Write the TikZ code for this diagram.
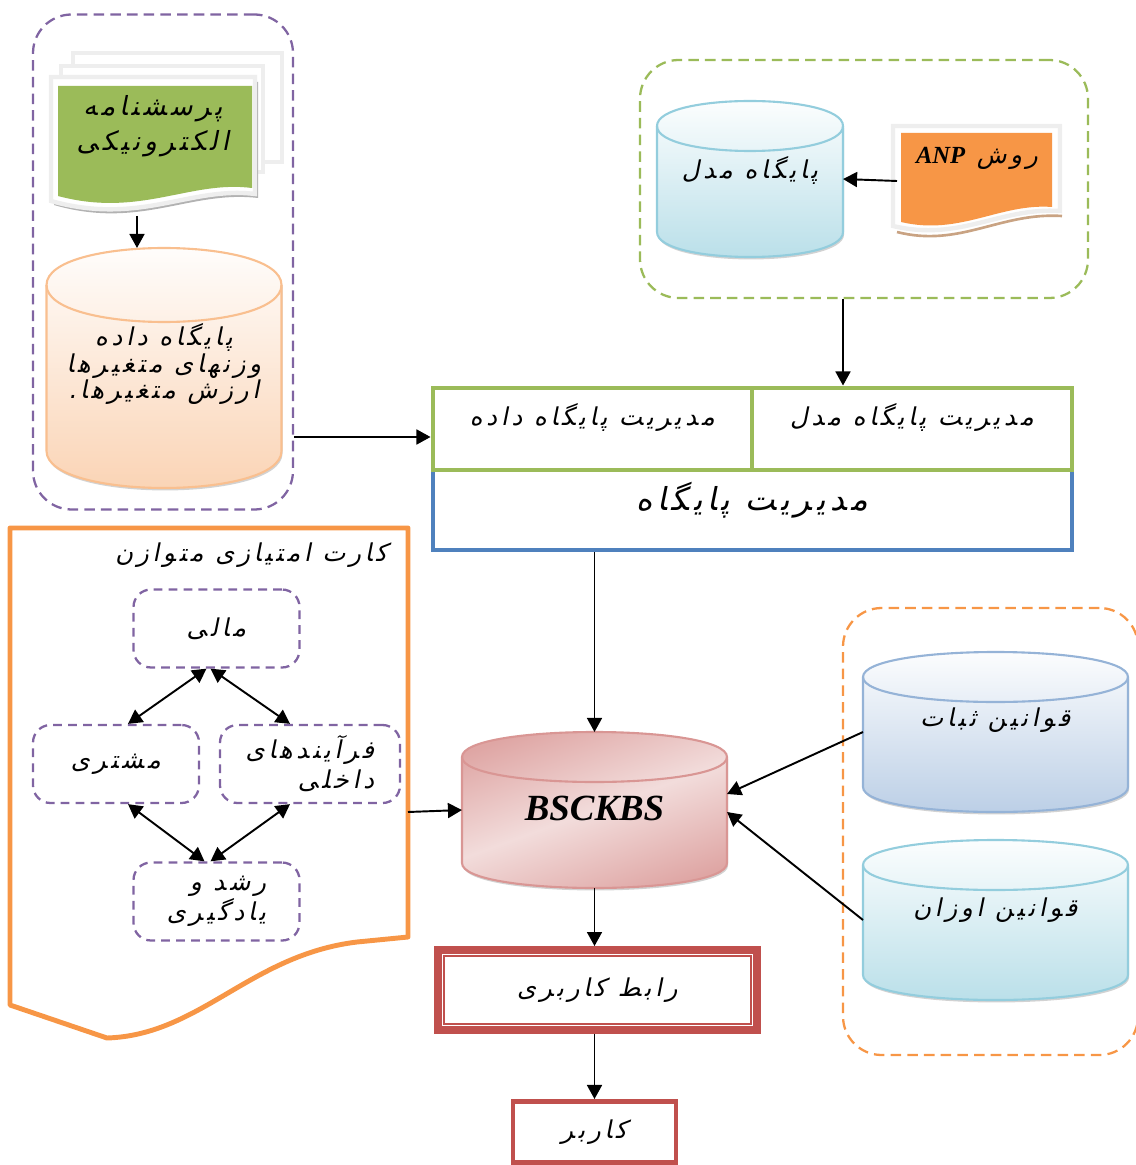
\documentclass[tikz,border=0pt]{standalone}
\usepackage{fontspec}
\usepackage{xcolor}
\usepackage{tikz}
\usetikzlibrary{shapes.geometric,arrows.meta,positioning,calc,shadows}
\TeXXeTstate=1
\newfontfamily\fafont[Script=Arabic,FakeSlant=0.2,LetterSpace=15]{DejaVu Sans}
\newfontfamily\enfont{Liberation Serif}
\newcommand{\fa}[1]{\beginR #1\endR}
% name, position, width, height, end radius, line colour, shading
\newcommand{\dbcylinder}[7]{%
  \node[dbspace, minimum width=#3*0.02cm, minimum height=#4*0.02cm] (#1) at #2 {};
  \path[draw=#6, line width=1.2pt, #7,
      drop shadow={shadow xshift=0.6pt, shadow yshift=-1.4pt, fill=black!35, opacity=0.5}]
    ($(#1.north west)+(0,#5)$) .. controls ($(#1.north west)+(0,-#5/3)$) and ($(#1.north east)+(0,-#5/3)$) .. ($(#1.north east)+(0,#5)$)
    -- ($(#1.south east)+(0,-#5)$) .. controls ($(#1.south east)+(0,#5/3)$) and ($(#1.south west)+(0,#5/3)$) .. ($(#1.south west)+(0,-#5)$)
    -- cycle;
  \draw[#6, line width=1.2pt] ($(#1.north west)+(0,#5)$) .. controls ($(#1.north west)+(0,#5*7/3)$) and ($(#1.north east)+(0,#5*7/3)$) .. ($(#1.north east)+(0,#5)$);
}
\definecolor{purpleline}{HTML}{8064A2}
\definecolor{greenline}{HTML}{9BBB59}
\definecolor{orangeline}{HTML}{F79646}
\definecolor{blueline}{HTML}{4F81BD}
\definecolor{redline}{HTML}{C0504D}
\definecolor{peachfill}{HTML}{FAD2B2}
\definecolor{peachline}{HTML}{F9BF8F}
\definecolor{aquafill}{HTML}{B7DEE8}
\definecolor{aqualine}{HTML}{93CDDD}
\definecolor{steelfill}{HTML}{B9CDE5}
\definecolor{steelline}{HTML}{95B3D7}
\definecolor{rosefill}{HTML}{D99694}
\definecolor{roselight}{HTML}{F2DCDB}
\definecolor{paperline}{HTML}{EEEEEE}
\definecolor{tanline}{HTML}{C9A383}

\begin{document}
\begin{tikzpicture}[x=0.02cm, y=-0.02cm,
    every node/.style={font=\fafont\fontsize{14}{17}\selectfont, align=center},
    dbspace/.style={rectangle, inner sep=0pt, outer sep=0pt},
    groupbox/.style={draw, line width=1.3pt, dash pattern=on 6pt off 3.5pt, rounded corners=22pt},
    perspective/.style={draw=purpleline, line width=1.3pt, dash pattern=on 5pt off 3.5pt,
        rounded corners=10pt, minimum width=166*0.02cm, minimum height=78*0.02cm},
    cell/.style={draw, line width=2.8pt, minimum height=82*0.02cm, text depth=16pt},
    link/.style={-{Triangle[length=8pt,width=8.5pt]}, line width=1.1pt},
    twoway/.style={{Triangle[length=8pt,width=8.5pt]}-{Triangle[length=8pt,width=8.5pt]}, line width=1.1pt}]

    \useasboundingbox (0,0) rectangle (1135,1165);

    % data side
    \node[groupbox, draw=purpleline, minimum width=260*0.02cm, minimum height=495*0.02cm] (questgroup) at (163,262) {};
    \filldraw[draw=paperline, fill=white, line width=2.5pt] (73,53) rectangle (282,162);
    \filldraw[draw=paperline, fill=white, line width=2.5pt] (61,66) rectangle (263,172);
    \fill[black!30] (54,82) -- (258,82) -- (258,198) .. controls (190,190) and (140,230) .. (54,205) -- cycle;
    \filldraw[draw=paperline, fill=white, line width=2.5pt] (51,77) -- (255,77) -- (255,194) .. controls (190,186) and (140,226) .. (51,201) -- cycle;
    \fill[greenline] (58,86) -- (252,86) -- (252,188) .. controls (190,180) and (140,218) .. (58,196) -- cycle;
    \node[font=\fafont\fontsize{15}{20}\selectfont] (quest) at (153,126) {\fa{پرسشنامه}\\\fa{الکترونیکی}};
    \coordinate (questbot) at (137,216);

    \dbcylinder{varsdb}{(164,368)}{235}{240}{37}{peachline}{top color=white, bottom color=peachfill}
    \node[font=\fafont\fontsize{14}{15}\selectfont] (varstext) at (164,364)
        {\fa{پایگاه داده}\\\fa{وزنهای متغیرها}\\\fa{ارزش متغیرها.}};

    % model side
    \node[groupbox, draw=greenline, minimum width=448*0.02cm, minimum height=238*0.02cm] (modelgroup) at (864,179) {};
    \dbcylinder{modeldb}{(750,179)}{186}{156}{25}{aqualine}{top color=white, bottom color=aquafill}
    \node (modeltext) at (750,170) {\fa{پایگاه مدل}};
    \draw[tanline, line width=1.5pt] (897,232) .. controls (960,248) and (1000,212) .. (1062,216);
    \filldraw[draw=paperline, fill=white, line width=2.5pt] (893,126) -- (1060,126) -- (1060,211) .. controls (1000,207) and (960,242) .. (893,226) -- cycle;
    \fill[orangeline] (901,133) -- (1052,133) -- (1052,207) .. controls (1000,203) and (960,236) .. (901,222) -- cycle;
    \node (anp) at (977,158) {\fa{روش \beginL{\enfont\bfseries\itshape\fontsize{14}{16}\selectfont ANP}\endL}};
    \coordinate (anpleft) at (897,181);

    % management
    \node[cell, draw=blueline, minimum width=639*0.02cm, minimum height=80*0.02cm,
        font=\fafont\fontsize{18}{22}\selectfont] (dbmgmt) at (752.5,510) {\fa{مدیریت پایگاه}};
    \node[cell, draw=greenline, minimum width=319*0.02cm] (datacell) at (592.5,429) {\fa{مدیریت پایگاه داده}};
    \node[cell, draw=greenline, minimum width=320*0.02cm] (modelcell) at (912,429) {\fa{مدیریت پایگاه مدل}};

    % knowledge base
    \dbcylinder{bsc}{(594.5,810)}{265}{156}{25}{rosefill}{left color=rosefill!85, right color=rosefill!85, middle color=roselight, shading angle=20}
    \node[font=\enfont\bfseries\itshape\fontsize{21}{24}\selectfont] (bsctext) at (594.5,808) {BSCKBS};

    % rules
    \node[groupbox, draw=orangeline, minimum width=295*0.02cm, minimum height=447*0.02cm] (rulegroup) at (990.5,831.5) {};
    \dbcylinder{stable}{(995.5,732)}{265}{160}{25}{steelline}{top color=white, bottom color=steelfill}
    \node (stabletext) at (995.5,720) {\fa{قوانین ثبات}};
    \dbcylinder{weights}{(995.5,920)}{265}{160}{25}{aqualine}{top color=white, bottom color=aquafill}
    \node (weightstext) at (995.5,910) {\fa{قوانین اوزان}};

    % balanced scorecard
    \draw[orangeline, line width=2.8pt, line join=round] (10,528) -- (408,528) -- (408,937) -- (357,942)
        .. controls (250,955) and (200,1035) .. (107,1038) -- (10,1005) -- cycle;
    \coordinate (bscright) at (408,812);
    \node[anchor=east] (bsctitle) at (394,555) {\fa{کارت امتیازی متوازن}};
    \node[perspective] (fin) at (216.5,628.5) {\fa{مالی}};
    \node[perspective] (cust) at (116,764) {\fa{مشتری}};
    \node[perspective, minimum width=180*0.02cm, align=right] (proc) at (310,764) {\fa{فرآیندهای}\\\fa{داخلی}};
    \node[perspective, align=right] (learn) at (216.5,901.5) {\fa{رشد و}\\\fa{یادگیری}};

    % user
    \node[draw=redline, line width=4.5pt, minimum width=319*0.02cm, minimum height=80*0.02cm] (ui) at (597.5,990) {\fa{رابط کاربری}};
    \draw[redline, line width=1pt] ($(ui.south west)+(10,-10)$) rectangle ($(ui.north east)+(-10,10)$);
    \node[draw=redline, line width=2.8pt, minimum width=163*0.02cm, minimum height=61*0.02cm] (user) at (594.5,1132) {\fa{کاربر}};

    % connectors
    \draw[link] (questbot) -- (questbot |- varsdb.north);
    \draw[link] (anpleft) -- (modeldb.east);
    \draw[link] (modelgroup.south -| modeldb.east) -- (modelcell.north -| modeldb.east);
    \draw[link] (questgroup.east |- 0,437) -- (datacell.west |- 0,437);
    \draw[link] (dbmgmt.south -| bsc.north) -- (bsc.north);
    \draw[link] (bscright) -- (bsc.west);
    \draw[link] (stable.west) -- ($(bsc.east)+(0,-16)$);
    \draw[link] (weights.west) -- ($(bsc.east)+(0,2)$);
    \draw[link] (bsc.south) -- (bsc.south |- ui.north);
    \draw[link] (ui.south -| user.north) -- (user.north);
    \draw[twoway] ($(fin.south)+(-10,0)$) -- ($(cust.north)+(12,0)$);
    \draw[twoway] ($(fin.south)+(-6,0)$) -- ($(proc.north)+(-20,0)$);
    \draw[twoway] ($(cust.south)+(12,0)$) -- ($(learn.north)+(-12,0)$);
    \draw[twoway] ($(proc.south)+(-20,0)$) -- ($(learn.north)+(-6,0)$);
\end{tikzpicture}
\end{document}
